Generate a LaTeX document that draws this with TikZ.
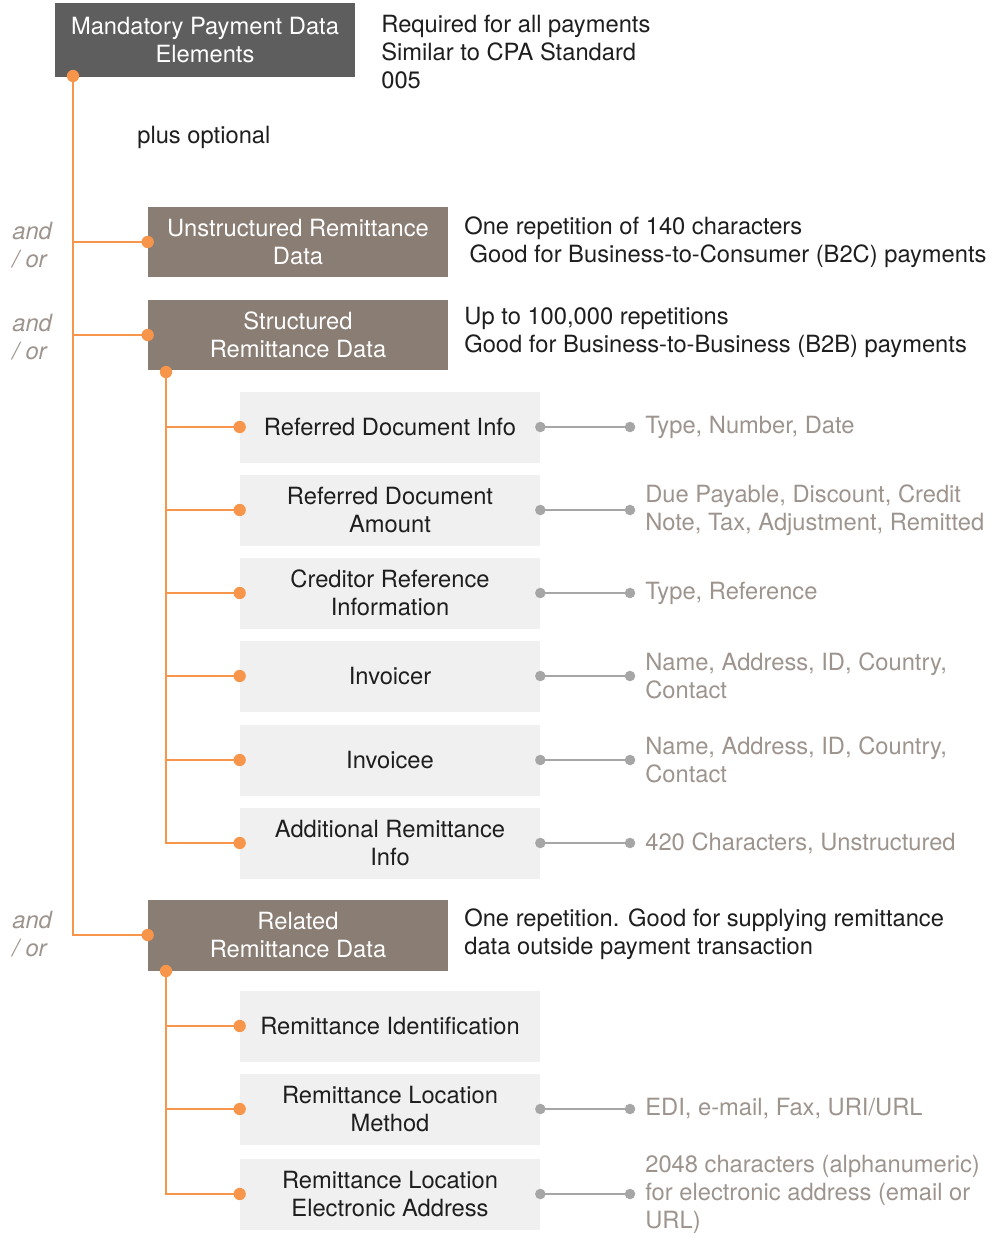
\documentclass[tikz,border=0pt]{standalone}
\usepackage{fontspec}
\setmainfont{TeX Gyre Heros}
\usetikzlibrary{positioning}
\definecolor{paydark}{RGB}{94,94,94}
\definecolor{paytaupe}{RGB}{138,125,116}
\definecolor{payorange}{RGB}{247,150,74}
\definecolor{paylight}{RGB}{240,240,240}
\definecolor{paynote}{RGB}{158,148,142}
\definecolor{paylink}{RGB}{166,166,166}
\definecolor{paytext}{RGB}{30,30,30}

\tikzset{
  base/.style={font=\fontsize{13.5}{15.9}\selectfont, inner sep=0pt},
  mainbox/.style={base, fill=paydark, text=white, align=center,
    minimum width=6cm, minimum height=1.48cm},
  optbox/.style={base, fill=paytaupe, text=white, align=center,
    minimum width=6cm, minimum height=1.42cm},
  subbox/.style={base, fill=paylight, text=paytext, align=center,
    minimum width=6cm, minimum height=1.42cm},
  desc/.style={base, text=paytext, align=left, anchor=west},
  note/.style={base, text=paynote, align=left, anchor=west, inner xsep=0.3cm},
  andor/.style={base, text=paynote, align=left, anchor=west, font=\fontsize{13.5}{15.9}\selectfont\itshape},
  oline/.style={payorange, line width=1.1pt},
  gline/.style={paylink, line width=1.1pt},
}

\begin{document}
\begin{tikzpicture}[x=0.02cm, y=-0.02cm]
  \useasboundingbox (0,0) rectangle (997,1238);
  % mandatory part
  \node[mainbox] (mand) at (205,40) {Mandatory Payment Data\\Elements};
  \node[desc] (manddesc) at (381,52) {Required for all payments\\Similar to CPA Standard\\005};
  \node[desc] (plus) at (137,137) {plus optional};
  \coordinate (trunk) at (73,76);

  % optional blocks
  \node[optbox] (unstr) at (298,242) {Unstructured Remittance\\Data};
  \node[desc] (unstrdesc) at (464,242) {One repetition of 140 characters\\\hspace*{3pt}Good for Business-to-Consumer (B2C) payments};
  \node[optbox] (struct) at (298,335) {Structured\\Remittance Data};
  \node[desc] (structdesc) at (464,332) {Up to 100,000 repetitions\\Good for Business-to-Business (B2B) payments};
  \node[optbox] (rel) at (298,935) {Related\\Remittance Data};
  \node[desc] (reldesc) at (464,934) {One repetition. Good for supplying remittance\\data outside payment transaction};
  \foreach \y/\n in {245/a, 337/b, 934/c}
    \node[andor] (andor\n) at (12,\y) {and\\/ or};

  \draw[oline] (trunk) |- (unstr.west);
  \draw[oline] (trunk) |- (struct.west);
  \draw[oline] (trunk) |- (rel.west);
  \foreach \p in {trunk, unstr.west, struct.west, rel.west}
    \fill[payorange] (\p) circle (3.5pt);

  % structured remittance elements
  \coordinate (strunk) at (166,372);
  \fill[payorange] (strunk) circle (3.5pt);
  \foreach \i/\y/\lbl/\txt in {
      1/427/{Referred Document Info}/{Type, Number, Date},
      2/510/{Referred Document\\Amount}/{Due Payable, Discount, Credit\\Note, Tax, Adjustment, Remitted},
      3/593/{Creditor Reference\\Information}/{Type, Reference},
      4/676/{Invoicer}/{Name, Address, ID, Country,\\Contact},
      5/760/{Invoicee}/{Name, Address, ID, Country,\\Contact},
      6/843/{Additional Remittance\\Info}/{420 Characters, Unstructured}} {
    \node[subbox] (sd\i) at (390,\y) {\lbl};
    \node[note] (sn\i) at (630,\y) {\txt};
    \draw[oline] (strunk) |- (sd\i.west);
    \fill[payorange] (sd\i.west) circle (3.5pt);
    \draw[gline] (sd\i.east) -- (sn\i.west);
    \fill[paylink] (sd\i.east) circle (3pt);
    \fill[paylink] (sn\i.west) circle (3pt);
  }

  % related remittance elements
  \coordinate (rtrunk) at (166,971);
  \fill[payorange] (rtrunk) circle (3.5pt);
  \node[subbox] (rd1) at (390,1026) {Remittance Identification};
  \node[subbox] (rd2) at (390,1109) {Remittance Location\\Method};
  \node[subbox] (rd3) at (390,1194) {Remittance Location\\Electronic Address};
  \node[note] (rn2) at (630,1109) {EDI, e-mail, Fax, URI/URL};
  \node[note] (rn3) at (630,1194) {2048 characters (alphanumeric)\\for electronic address (email or\\URL)};
  \foreach \i in {1,2,3} {
    \draw[oline] (rtrunk) |- (rd\i.west);
    \fill[payorange] (rd\i.west) circle (3.5pt);
  }
  \foreach \i in {2,3} {
    \draw[gline] (rd\i.east) -- (rn\i.west);
    \fill[paylink] (rd\i.east) circle (3pt);
    \fill[paylink] (rn\i.west) circle (3pt);
  }
\end{tikzpicture}
\end{document}
